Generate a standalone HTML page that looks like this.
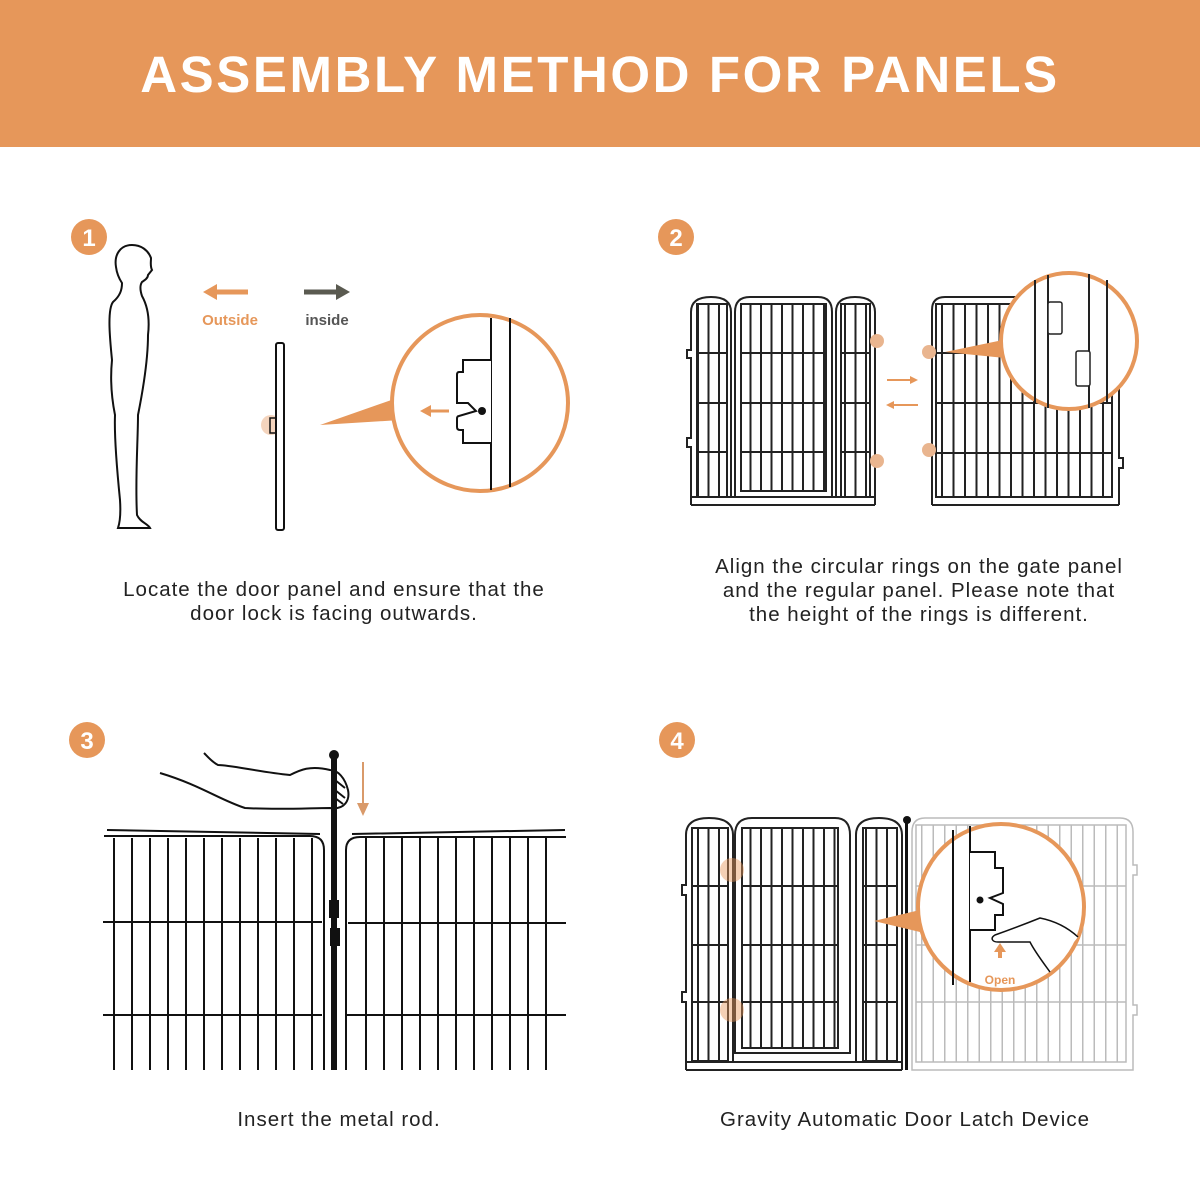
<!DOCTYPE html>
<html><head><meta charset="utf-8"><style>
body{margin:0;width:1200px;height:1200px;background:#fff;overflow:hidden;font-family:"Liberation Sans",sans-serif}
.hd{position:absolute;left:0;top:0;width:1200px;height:147px;background:#E6975A;color:#fff;font-weight:bold;font-size:51px;text-align:center;line-height:150px;letter-spacing:2.6px}
.cap{position:absolute;font-size:20.5px;color:#222;text-align:center;line-height:24px;letter-spacing:1px}
svg{position:absolute;left:0;top:0}
</style></head><body>
<div class="hd">ASSEMBLY METHOD FOR PANELS</div>
<svg width="1200" height="1200" viewBox="0 0 1200 1200">
<defs>
<pattern id="b10" x="0" y="0" width="10.5" height="10" patternUnits="userSpaceOnUse"><rect x="4" width="2" height="10" fill="#222"/></pattern>
<pattern id="b12" x="936" y="0" width="11.5" height="10" patternUnits="userSpaceOnUse"><rect x="5" width="2" height="10" fill="#222"/></pattern>
<pattern id="b18" x="113" y="0" width="18" height="10" patternUnits="userSpaceOnUse"><rect x="0" width="2" height="10" fill="#111"/></pattern>
<pattern id="b12g" x="916" y="0" width="11.5" height="10" patternUnits="userSpaceOnUse"><rect x="5" width="1.5" height="10" fill="#bbb"/></pattern>
</defs>
<g fill="#E6975A"><circle cx="89" cy="237" r="18"/><circle cx="676" cy="237" r="18"/><circle cx="87" cy="740" r="18"/><circle cx="677" cy="740" r="18"/></g>
<g fill="#fff" font-weight="bold" font-size="24" text-anchor="middle"><text x="89" y="246">1</text><text x="676" y="246">2</text><text x="87" y="749">3</text><text x="677" y="749">4</text></g>

<!-- step 1 -->
<path d="M132 245 C120 245 114 255 116 267 C117 275 120 280 122 283 C122 290 120 296 113 302 C107 310 110 340 112 360 C110 380 112 400 115 415 C114 440 118 480 120 500 C121 515 120 522 118 528 L150 528 C148 524 140 522 137 515 C135 480 138 440 138 415 C142 395 148 360 148 335 C150 318 147 305 142 296 C140 290 140 285 142 282 C145 280 148 278 148 275 L152 270 C150 266 151 262 151 258 C148 250 141 245 132 245 Z" fill="none" stroke="#111" stroke-width="2"/>
<path d="M248 292 H216" stroke="#E6975A" stroke-width="5"/><path d="M203 292 L217 284 L217 300Z" fill="#E6975A"/>
<path d="M304 292 H337" stroke="#5a5a50" stroke-width="5"/><path d="M350 292 L336 284 L336 300Z" fill="#5a5a50"/>
<text x="230" y="325" fill="#E6975A" font-weight="bold" font-size="15" text-anchor="middle">Outside</text>
<text x="327" y="325" fill="#555" font-weight="bold" font-size="15" text-anchor="middle">inside</text>
<circle cx="271" cy="425" r="10" fill="#F4D4BD"/>
<rect x="276" y="343" width="8" height="187" rx="2" fill="#fff" stroke="#111" stroke-width="2"/>
<rect x="270" y="418" width="6" height="15" fill="none" stroke="#111" stroke-width="1.5"/>
<path d="M320 425 L400 397 L400 420Z" fill="#E6975A"/>
<circle cx="480" cy="403" r="88" fill="#fff" stroke="#E6975A" stroke-width="4"/>
<path d="M491 318 V490 M510 318 V487" stroke="#111" stroke-width="2"/>
<path d="M491 360 H463 V372 H459 Q457 372 457 375 V403 H468 L476 411 L459 416 Q457 416 457 419 V427 Q457 430 460 430 H463 V443 H491" fill="#fff" stroke="#111" stroke-width="2"/>
<circle cx="482" cy="411" r="4" fill="#111"/>
<path d="M449 411 H430" stroke="#E6975A" stroke-width="3"/><path d="M420 411 L431 405 L431 417Z" fill="#E6975A"/>

<!-- step 2 -->
<g fill="none" stroke="#222" stroke-width="2">
<rect x="697" y="304" width="30" height="193" fill="url(#b10)"/>
<rect x="741" y="304" width="85" height="187" fill="url(#b10)"/>
<rect x="841" y="304" width="29" height="193" fill="url(#b10)"/>
<path d="M691 505 V447 H687 V438 H691 V358 H687 V350 H691 V312 Q691 297 711 297 Q731 297 731 312 V497 M735 497 V312 Q735 297 750 297 H818 Q832 297 832 312 V497 M836 497 V312 Q836 297 855 297 Q875 297 875 312 V505 M691 505 H875 M691 497 H875"/>
<path d="M697 353 H727 M697 403 H727 M697 452 H727 M741 353 H826 M741 403 H826 M741 452 H826 M841 353 H870 M841 403 H870 M841 452 H870"/>
<rect x="936" y="304" width="176" height="193" fill="url(#b12)"/>
<path d="M932 505 V310 Q932 297 945 297 H1106 Q1119 297 1119 310 V458 H1123 V468 H1119 V505 M932 505 H1119 M936 497 H1112 M936 353 H1112 M936 403 H1112 M936 453 H1112"/>
</g>
<g fill="#E9B58F"><circle cx="877" cy="341" r="7"/><circle cx="877" cy="461" r="7"/><circle cx="929" cy="352" r="7"/><circle cx="929" cy="450" r="7"/></g>
<path d="M887 380 H912 M892 405 H918" stroke="#E6975A" stroke-width="2"/>
<path d="M918 380 L910 376 V384Z M886 405 L894 401 V409Z" fill="#E6975A"/>
<path d="M945 352 L1003 340 L1005 358Z" fill="#E6975A"/>
<circle cx="1069" cy="341" r="68" fill="#fff" stroke="#E6975A" stroke-width="4"/>
<path d="M1035 280 V403 M1048 275 V408 M1089 274 V408 M1107 280 V403" stroke="#222" stroke-width="2"/>
<rect x="1048" y="302" width="14" height="32" rx="2" fill="#fff" stroke="#222" stroke-width="1.5"/>
<rect x="1076" y="351" width="14" height="35" rx="2" fill="#fff" stroke="#222" stroke-width="1.5"/>

<!-- step 3 -->
<rect x="113" y="838" width="200" height="232" fill="url(#b18)"/>
<rect x="359" y="838" width="200" height="232" fill="url(#b18)"/>
<g fill="none" stroke="#111" stroke-width="2">
<path d="M107 830 L320 834 M104 836 H310 Q324 836 324 850 V1070 M565 830 L352 834 M566 837 H360 Q346 837 346 850 V1070 M103 922 H322 M348 923 H566 M103 1015 H322 M346 1015 H566"/>
<path d="M160 773 C200 785 220 800 245 808 C280 810 310 808 330 808 C345 810 350 800 348 790 C345 778 338 770 330 770 C310 765 300 770 290 775 C260 772 230 765 218 765 C212 762 208 757 204 753"/>
<path d="M335 780 L345 788 M335 790 L345 798 M335 798 L343 804"/>
</g>
<rect x="331" y="755" width="6" height="315" fill="#111"/><circle cx="334" cy="755" r="5" fill="#111"/>
<rect x="329" y="900" width="10" height="18" fill="#111"/><rect x="330" y="928" width="10" height="18" fill="#111"/>
<path d="M363 762 V805" stroke="#D99A6A" stroke-width="2"/><path d="M357 803 L363 816 L369 803Z" fill="#D99A6A"/>

<!-- step 4 -->
<g fill="none" stroke="#bbb" stroke-width="1.5">
<rect x="916" y="825" width="210" height="237" fill="url(#b12g)"/>
<path d="M912 1070 V832 Q912 818 925 818 H1120 Q1133 818 1133 832 V865 H1137 V875 H1133 V1005 H1137 V1015 H1133 V1070 Z M916 886 H1126 M916 945 H1126 M916 1002 H1126"/>
</g>
<g fill="none" stroke="#222" stroke-width="2">
<rect x="692" y="828" width="36" height="233" fill="url(#b10)"/>
<rect x="742" y="828" width="96" height="220" fill="url(#b10)"/>
<rect x="863" y="828" width="34" height="233" fill="url(#b10)"/>
<path d="M686 1070 V1002 H682 V992 H686 V895 H682 V885 H686 V835 Q686 818 709 818 Q733 818 733 835 V1062 M735 1053 V835 Q735 818 752 818 H835 Q850 818 850 835 V1053 Z M856 1062 V835 Q856 818 879 818 Q902 818 902 835 V1070 M686 1070 H902 M686 1062 H902"/>
<path d="M692 886 H728 M692 945 H728 M692 1002 H728 M742 886 H838 M742 945 H838 M742 1002 H838 M863 886 H897 M863 945 H897 M863 1002 H897"/>
</g>
<rect x="905" y="820" width="3" height="250" fill="#111"/><circle cx="907" cy="820" r="4" fill="#111"/>
<circle cx="732" cy="870" r="12" fill="#E6975A" opacity="0.45"/><circle cx="732" cy="1010" r="12" fill="#E6975A" opacity="0.45"/>
<path d="M874 921 L920 910 L920 932Z" fill="#E6975A"/>
<circle cx="1001" cy="907" r="83" fill="#fff" stroke="#E6975A" stroke-width="4"/>
<path d="M953 830 V985 M970 826 V982" stroke="#111" stroke-width="2"/>
<path d="M970 852 H995 V868 H1003 V893 L990 898 L1003 904 V915 H995 V930 H970" fill="#fff" stroke="#111" stroke-width="2"/>
<circle cx="980" cy="900" r="3.5" fill="#111"/>
<path d="M1078 937 C1065 925 1050 920 1040 918 C1030 922 1015 928 995 935 C990 938 992 942 998 942 L1030 942 C1035 952 1045 965 1050 972" fill="#fff" stroke="#111" stroke-width="1.5"/>
<path d="M1000 958 V948" stroke="#E6975A" stroke-width="4"/><path d="M994 952 L1000 943 L1006 952Z" fill="#E6975A"/>
<text x="1000" y="984" fill="#E6975A" font-weight="bold" font-size="12" text-anchor="middle">Open</text>
</svg>
<div class="cap" style="left:34px;top:578px;width:600px">Locate the door panel and ensure that the<br>door lock is facing outwards.</div>
<div class="cap" style="left:619px;top:555px;width:600px">Align the circular rings on the gate panel<br>and the regular panel. Please note that<br>the height of the rings is different.</div>
<div class="cap" style="left:39px;top:1108px;width:600px">Insert the metal rod.</div>
<div class="cap" style="left:605px;top:1108px;width:600px">Gravity Automatic Door Latch Device</div>
</body></html>
